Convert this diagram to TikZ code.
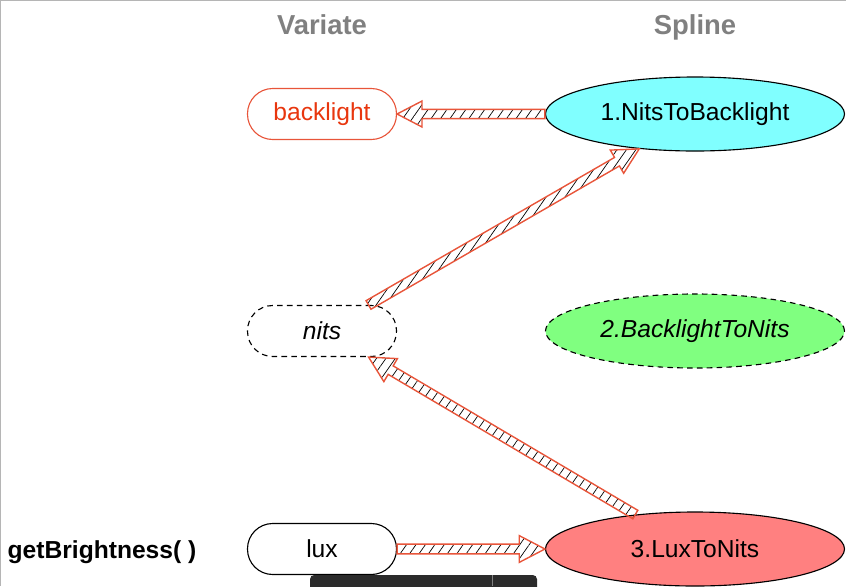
\documentclass[tikz,border=0pt]{standalone}
\usepackage{fontspec}
\setmainfont{Liberation Sans}
\usepackage{xcolor}
\usetikzlibrary{shapes.geometric,shapes.arrows,positioning,calc,patterns.meta}

\definecolor{hdrgray}{HTML}{808080}
\definecolor{framegray}{HTML}{B5B5B5}
\definecolor{textred}{HTML}{E8360E}
\definecolor{linered}{HTML}{E8553A}
\definecolor{cyanfill}{HTML}{80FFFF}
\definecolor{greenfill}{HTML}{80FF80}
\definecolor{redfill}{HTML}{FF8080}
\definecolor{bardark}{HTML}{2B2B2B}

% hatched block arrow from #1 to #2
\newcommand{\hatcharrow}[2]{%
  \path let \p1=(#1), \p2=(#2), \n1={atan2(\y2-\y1,\x2-\x1)}, \n2={veclen(\x2-\x1,\y2-\y1)} in
    node[hatch, minimum height=\n2, rotate=\n1, anchor=tail] at (\p1) {};}

\begin{document}
\begin{tikzpicture}[
  hdr/.style={font=\fontsize{19.5}{23}\selectfont\bfseries, text=hdrgray, anchor=base},
  var/.style={draw, rounded corners=0.63cm, minimum width=3.725cm, minimum height=1.275cm, line width=0.8pt, font=\fontsize{17.5}{21}\selectfont},
  spl/.style={ellipse, draw, inner sep=0pt, minimum width=7.475cm, minimum height=1.85cm, line width=0.8pt, font=\fontsize{17.5}{21}\selectfont},
  dsh/.style={dash pattern=on 4pt off 3pt},
  hatch/.style={single arrow, draw=linered, line width=1pt, pattern={Lines[angle=55,distance=5.5pt,line width=0.5pt]}, pattern color=black, inner sep=3pt, outer sep=0pt, single arrow head extend=6pt, single arrow tip angle=55}
]
\useasboundingbox (0,0) rectangle (21.15,-14.65);

\draw[framegray, line width=1pt] (0,-14.65) -- (0,0) -- (21.15,0);

\node[hdr] (hv) at (8.05,-0.86) {Variate};
\node[hdr] (hs) at (17.375,-0.86) {Spline};

\node[var, draw=linered, text=textred] (bl) at (8.05,-2.85) {backlight};
\node[var, dsh] (nits) at (8.05,-8.275) {\itshape nits};
\node[var] (lux) at (8.05,-13.725) {lux};

\node[spl, fill=cyanfill] (nb) at (17.375,-2.85) {1.NitsToBacklight};
\node[spl, fill=greenfill, dsh] (bn) at (17.375,-8.275) {\itshape 2.BacklightToNits};
\node[spl, fill=redfill] (ln) at (17.375,-13.725) {3.LuxToNits};

\node[font=\fontsize{17.5}{21}\selectfont\bfseries] (gb) at (2.55,-13.8) {getBrightness( )};

\coordinate (nitsT) at ($(nits.north)!0.62!(nits.north east)$);
\coordinate (nitsB) at ($(nits.south)!0.62!(nits.south east)$);

\hatcharrow{nb.west}{bl.east}
\hatcharrow{nitsT}{nb.212}
\hatcharrow{ln.150}{nitsB}
\hatcharrow{lux.east}{ln.west}

% dark bar at the bottom
\fill[bardark, rounded corners=3pt] (7.75,-14.8) -- (7.75,-14.375) -- (13.425,-14.375) -- (13.425,-14.8);
\draw[gray] (12.3,-14.375) -- (12.3,-14.65);

\end{tikzpicture}
\end{document}
